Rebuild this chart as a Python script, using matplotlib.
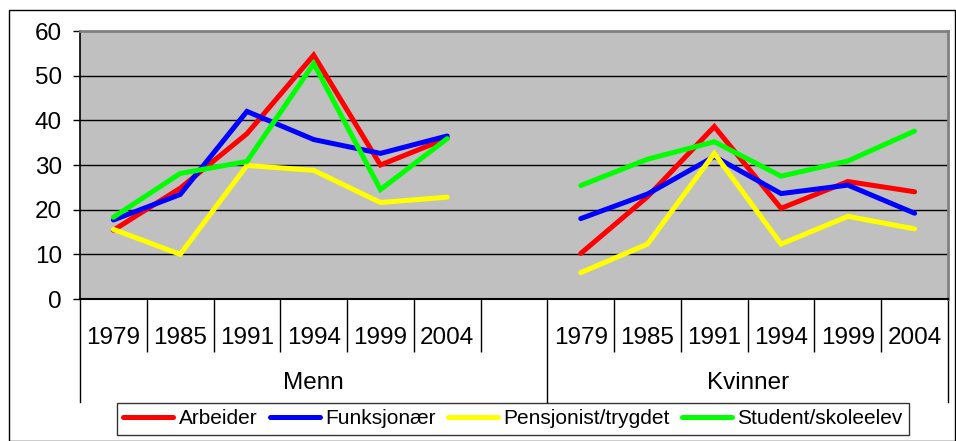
import matplotlib
matplotlib.use("Agg")
import matplotlib.pyplot as plt
from matplotlib.transforms import blended_transform_factory
from matplotlib.patches import Rectangle

plt.rcParams['font.family'] = ['Liberation Sans', 'DejaVu Sans']

years = ["1979", "1985", "1991", "1994", "1999", "2004"]
groups = ["Menn", "Kvinner"]
series_names = ["Arbeider", "Funksjonær", "Pensjonist/trygdet", "Student/skoleelev"]
colors = ["#FF0000", "#0000FF", "#FFFF00", "#00FF00"]

menn_arbeider = [15.4, 24.8, 37.0, 54.6, 30.0, 36.0]
menn_funksjonaer = [17.7, 23.4, 42.0, 35.7, 32.6, 36.5]
menn_pensjonist = [15.6, 10.0, 29.9, 28.8, 21.6, 22.8]
menn_student = [18.3, 28.1, 30.8, 52.7, 24.5, 35.9]

kvinner_arbeider = [10.2, 22.9, 38.6, 20.3, 26.3, 24.0]
kvinner_funksjonaer = [18.0, 23.5, 31.9, 23.6, 25.5, 19.2]
kvinner_pensjonist = [5.9, 12.3, 32.6, 12.3, 18.5, 15.7]
kvinner_student = [25.4, 31.3, 35.2, 27.5, 30.9, 37.6]

menn = [menn_arbeider, menn_funksjonaer, menn_pensjonist, menn_student]
kvinner = [kvinner_arbeider, kvinner_funksjonaer, kvinner_pensjonist, kvinner_student]

W, H = 956, 441
fig = plt.figure(figsize=(W / 100, H / 100), dpi=100)
L, R, T, B = 80, 948, 31, 299
ax = fig.add_axes([L / W, 1 - B / H, (R - L) / W, (B - T) / H])

n = len(years)
ncat = 2 * n + 1
menn_x = [i + 0.5 for i in range(n)]
kvinner_x = [n + 1 + i + 0.5 for i in range(n)]

ax.set_facecolor("#C0C0C0")
for v in [10, 20, 30, 40, 50]:
    ax.axhline(v, color="black", lw=1.0, zorder=1)

lines = []
for k in range(4):
    ln, = ax.plot(menn_x, menn[k], color=colors[k], lw=3.6, zorder=3,
                  solid_joinstyle="miter", solid_capstyle="round", label=series_names[k])
    ax.plot(kvinner_x, kvinner[k], color=colors[k], lw=3.6, zorder=3,
            solid_joinstyle="miter", solid_capstyle="round")
    lines.append(ln)

ax.set_xlim(0, ncat)
ax.set_ylim(0, 60)
ax.set_yticks(range(0, 61, 10))
ax.tick_params(axis="y", direction="out", length=5, width=1, pad=8, labelsize=17.5, colors="black")

labels = years + [""] + years
ax.set_xticks(menn_x + [n + 0.5] + kvinner_x)
ax.set_xticklabels(labels)
ax.tick_params(axis="x", which="major", length=0, pad=20, labelsize=17.5)
minor = [i for i in range(1, ncat) if i != n + 1]
ax.set_xticks(minor, minor=True)
ax.tick_params(axis="x", which="minor", direction="out", length=38, width=1, color="black")

for s in ["top", "right"]:
    ax.spines[s].set_color("#808080")
    ax.spines[s].set_linewidth(2)
ax.spines["left"].set_color("black")
ax.spines["bottom"].set_color("black")
ax.spines["left"].set_linewidth(1.2)
ax.spines["bottom"].set_linewidth(1.5)

trans = blended_transform_factory(ax.transData, ax.transAxes)
for xb in [0, n + 1, ncat]:
    ax.plot([xb, xb], [0, -(402 - B) / (B - T)], color="black", lw=1, transform=trans, clip_on=False)

gy = -(383 - B) / (B - T)
ax.text((n + 1) / 2, gy, groups[0], transform=trans, ha="center", va="center", fontsize=17.5)
ax.text((n + 1 + ncat) / 2, gy, groups[1], transform=trans, ha="center", va="center", fontsize=17.5)

leg = fig.legend(handles=lines, labels=series_names, ncol=4, loc="center",
                 bbox_to_anchor=((113 + 913) / 2 / W, 1 - 419 / H),
                 fontsize=15, frameon=True, fancybox=False, handlelength=2.4,
                 handletextpad=0.25, columnspacing=0.6, borderpad=0.3, borderaxespad=0)
leg.get_frame().set_edgecolor("black")
leg.get_frame().set_linewidth(1)

fig.patches.append(Rectangle((9 / W, 0.5 / H), (W - 10) / W, (H - 10.5) / H, transform=fig.transFigure,
                             fill=False, edgecolor="black", lw=1))

fig.savefig("out.png", dpi=100)
